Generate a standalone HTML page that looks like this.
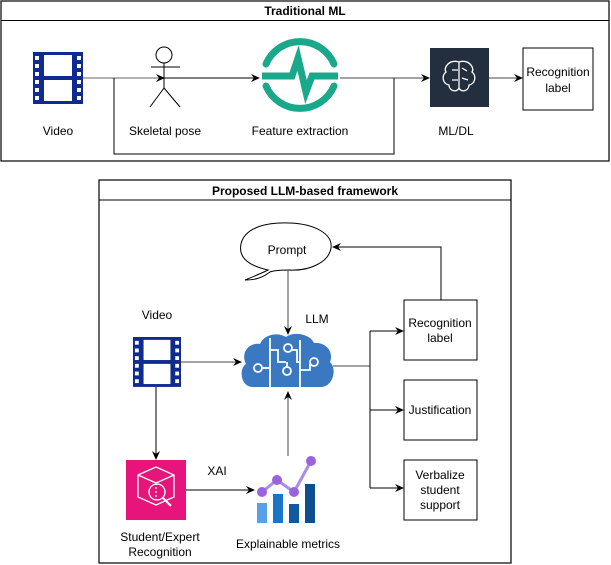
<!DOCTYPE html>
<html><head><style>body{margin:0;background:#fff}svg{display:block}text{font-family:"Liberation Sans",Arial,sans-serif;font-size:12px;fill:#000}</style></head><body>
<svg width="611" height="565" viewBox="0 0 611 565" xmlns="http://www.w3.org/2000/svg">
<defs>
<marker id="a" markerWidth="10" markerHeight="10" refX="8" refY="4" orient="auto" markerUnits="userSpaceOnUse"><path d="M0,0 L9,4 L0,8 L3,4 Z" fill="#000"/></marker>
<g id="film">
<rect x="0" y="0" width="50" height="52" fill="#0f2b8f"/>
<g fill="#fff">
<rect x="2" y="4" width="4" height="4"/><rect x="2" y="12" width="4" height="4"/><rect x="2" y="20" width="4" height="4"/><rect x="2" y="28" width="4" height="4"/><rect x="2" y="36" width="4" height="4"/><rect x="2" y="44" width="4" height="4"/>
<rect x="44" y="4" width="4" height="4"/><rect x="44" y="12" width="4" height="4"/><rect x="44" y="20" width="4" height="4"/><rect x="44" y="28" width="4" height="4"/><rect x="44" y="36" width="4" height="4"/><rect x="44" y="44" width="4" height="4"/>
<rect x="11" y="3" width="28" height="21"/><rect x="11" y="28" width="28" height="21"/>
</g></g>
</defs>
<!-- Top -->
<rect x="1" y="1" width="608" height="160" fill="#fff" stroke="#000" stroke-width="1.2"/>
<line x1="1" y1="20.5" x2="609" y2="20.5" stroke="#000"/>
<text x="305" y="15" text-anchor="middle" font-weight="bold">Traditional ML</text>
<use href="#film" x="33" y="52"/>
<g stroke="#000" fill="none" stroke-width="1">
<circle cx="164" cy="55" r="8"/>
<line x1="164" y1="63" x2="164" y2="88"/><line x1="151" y1="67" x2="180" y2="67"/>
<line x1="164" y1="88" x2="150" y2="107"/><line x1="164" y1="88" x2="180" y2="107"/>
<line x1="83" y1="78" x2="164" y2="78" stroke="#666" marker-end="url(#a)"/>
<line x1="164" y1="78" x2="259" y2="78" marker-end="url(#a)"/>
<polyline points="114,78 114,154 394,154 394,78"/>
<line x1="340" y1="78" x2="429" y2="78" stroke="#444" marker-end="url(#a)"/>
<line x1="489" y1="78" x2="522" y2="78" stroke="#444" marker-end="url(#a)"/>
</g>
<g stroke="#1aa88a" stroke-width="7" fill="none" stroke-linecap="round">
<path d="M266,64 A37,37 0 0 1 334,64"/><path d="M266,86 A37,37 0 0 0 334,86"/>
<path d="M262,76 L292,76 L298,58 L306,92 L312,76 L338,76" stroke-linejoin="miter" stroke-linecap="butt"/>
</g>
<rect x="430" y="48" width="59" height="59" fill="#232f3e"/>
<g stroke="#fff" fill="none" stroke-width="1.3"><path d="M459,62 c-10,-3 -16,6 -13,10 c-5,4 -3,12 3,13 c0,6 8,8 10,3 z M459,62 c10,-3 16,6 13,10 c5,4 3,12 -3,13 c0,6 -8,8 -10,3"/><path d="M452,70 h6 M452,80 h6 M462,68 l5,3 M462,78 l6,2"/></g>
<rect x="523" y="48" width="70" height="62" fill="#fff" stroke="#000"/>
<text x="558" y="76" text-anchor="middle">Recognition</text><text x="558" y="92" text-anchor="middle">label</text>
<text x="58" y="135" text-anchor="middle">Video</text>
<text x="165" y="135" text-anchor="middle">Skeletal pose</text>
<text x="300" y="135" text-anchor="middle">Feature extraction</text>
<text x="456" y="135" text-anchor="middle">ML/DL</text>
<!-- Bottom -->
<rect x="99" y="180" width="412" height="383" fill="#fff" stroke="#000" stroke-width="1.2"/>
<line x1="99" y1="200" x2="511" y2="200" stroke="#000"/>
<text x="305" y="195" text-anchor="middle" font-weight="bold">Proposed LLM-based framework</text>
<path d="M268,270 C250,266 238,258 241,244 C245,226 270,222 290,223 C315,224 333,234 331,248 C329,262 310,271 290,270 C283,270 275,270 270,272 C262,278 255,280 245,280 C255,276 262,273 268,270 Z" fill="#fff" stroke="#000"/>
<text x="287" y="254" text-anchor="middle" font-size="12">Prompt</text>
<text x="317" y="323" text-anchor="middle">LLM</text>
<text x="157" y="319" text-anchor="middle">Video</text>
<use href="#film" x="133" y="337" transform="translate(133,337) scale(0.96) translate(-133,-337)"/>
<!-- cloud -->
<path d="M252,387 C240,386 239,368 246,364 C240,352 250,342 260,344 C264,334 278,332 286,337 C294,331 310,334 314,343 C326,342 334,352 330,362 C338,370 332,388 320,387 Z" fill="#3b78c2"/>
<g stroke="#fff" stroke-width="1.8" fill="none">
<line x1="270" y1="338" x2="270" y2="387"/><line x1="300" y1="340" x2="300" y2="387"/>
<path d="M270,350 h8 v12 h8"/><circle cx="287" cy="371" r="4"/><path d="M287,367 v-5"/>
<circle cx="288" cy="348" r="4"/><path d="M292,350 h5 v12 h3"/>
<circle cx="258" cy="368" r="4"/><path d="M262,368 h8"/>
<circle cx="314" cy="362" r="4"/><path d="M310,364 v6 h-10"/>
</g>
<rect x="126" y="460" width="60" height="60" fill="#e7157b"/>
<g stroke="#fff" fill="none" stroke-width="1.3">
<path d="M138,475 l18,-8 l18,8 v22 l-18,8 l-18,-8 z M138,475 l18,8 l18,-8"/>
<circle cx="157" cy="492" r="8"/><line x1="163" y1="498" x2="171" y2="506" stroke-width="2"/>
<line x1="156" y1="483" x2="156" y2="500" stroke-dasharray="2,2"/>
</g>
<text x="160" y="541" text-anchor="middle">Student/Expert</text>
<text x="160" y="556" text-anchor="middle">Recognition</text>
<text x="217" y="475" text-anchor="middle">XAI</text>
<rect x="257" y="503" width="10" height="20" fill="#5aa0e6"/>
<rect x="273" y="494" width="10" height="29" fill="#1a74c8"/>
<rect x="289" y="504" width="10" height="19" fill="#10599e"/>
<rect x="305" y="484" width="10" height="39" fill="#0f4d91"/>
<polyline points="262,492 277,480 294,492 311,461" stroke="#a88ee6" stroke-width="3" fill="none"/>
<g fill="#9b62dd"><circle cx="262" cy="492" r="5"/><circle cx="277" cy="480" r="5"/><circle cx="294" cy="492" r="5"/><circle cx="311" cy="461" r="5"/></g>
<text x="288" y="548" text-anchor="middle">Explainable metrics</text>
<g stroke="#000" fill="none">
<line x1="180" y1="362" x2="241" y2="362" stroke="#444" marker-end="url(#a)"/>
<line x1="156" y1="387" x2="156" y2="459" marker-end="url(#a)"/>
<line x1="186" y1="490" x2="254" y2="490" marker-end="url(#a)"/>
<line x1="288" y1="456" x2="288" y2="392" stroke="#444" marker-end="url(#a)"/>
<line x1="288" y1="271" x2="288" y2="334" stroke="#444" marker-end="url(#a)"/>
<line x1="333" y1="366" x2="370" y2="366" stroke="#444"/>
<line x1="370" y1="331" x2="370" y2="488"/>
<line x1="370" y1="331" x2="403" y2="331" marker-end="url(#a)"/>
<line x1="370" y1="410" x2="403" y2="410" marker-end="url(#a)"/>
<line x1="370" y1="488" x2="403" y2="488" marker-end="url(#a)"/>
<polyline points="441,300 441,247 333,247" marker-end="url(#a)"/>
</g>
<g fill="#fff" stroke="#000">
<rect x="404" y="300" width="73" height="60"/><rect x="404" y="380" width="73" height="60"/><rect x="404" y="460" width="73" height="60"/>
</g>
<text x="440" y="327" text-anchor="middle">Recognition</text><text x="440" y="342" text-anchor="middle">label</text>
<text x="440" y="414" text-anchor="middle">Justification</text>
<text x="440" y="479" text-anchor="middle">Verbalize</text><text x="440" y="494" text-anchor="middle">student</text><text x="440" y="509" text-anchor="middle">support</text>
</svg>
</body></html>
